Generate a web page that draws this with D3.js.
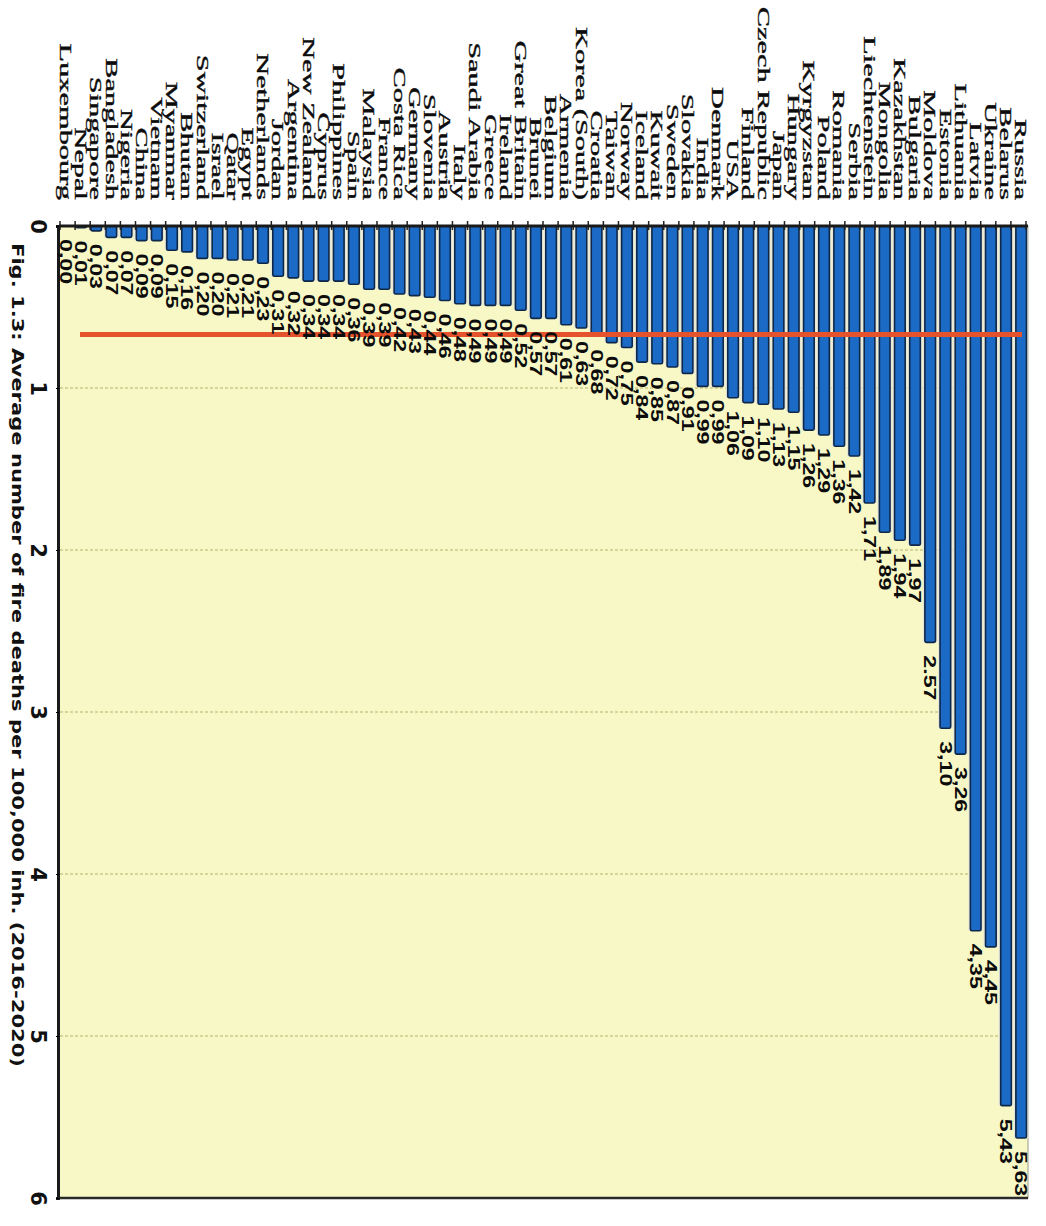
<!DOCTYPE html>
<html>
<head>
    <title>Fire deaths</title>
    <script src="https://cdn.jsdelivr.net/npm/d3@7"></script>
    <style>
        body {
            margin: 0;
            padding: 0;
            background-color: white;
        }

        .country-label {
            font-family: "Liberation Serif", "Times New Roman", serif;
            font-size: 16px;
            fill: #0c0c0c;
            stroke: #0c0c0c;
            stroke-width: 0.35px;
        }

        .value-label {
            font-family: "Liberation Sans", Arial, sans-serif;
            font-size: 16px;
            font-weight: bold;
            fill: #0c0c0c;
        }

        .tick-label {
            font-family: "DejaVu Sans", sans-serif;
            font-size: 21px;
            font-weight: bold;
            fill: #111;
        }

        .caption {
            font-family: "DejaVu Sans", sans-serif;
            font-size: 16px;
            font-weight: bold;
            fill: #111;
        }
    </style>
</head>
<body>
    <div id="chart"></div>

    <script>
        // countries in drawing order (left to right on the page)
        const countries = [
            "Luxembourg", "Nepal", "Singapore", "Bangladesh", "Nigeria", "China", "Vietnam", "Myanmar",
            "Bhutan", "Switzerland", "Israel", "Qatar", "Egypt", "Netherlands", "Jordan", "Argentina",
            "New Zealand", "Cyprus", "Philippines", "Spain", "Malaysia", "France", "Costa Rica", "Germany",
            "Slovenia", "Austria", "Italy", "Saudi Arabia", "Greece", "Ireland", "Great Britain", "Brunei",
            "Belgium", "Armenia", "Korea (South)", "Croatia", "Taiwan", "Norway", "Iceland", "Kuwait",
            "Sweden", "Slovakia", "India", "Denmark", "USA", "Finland", "Czech Republic", "Japan",
            "Hungary", "Kyrgyzstan", "Poland", "Romania", "Serbia", "Liechtenstein", "Mongolia", "Kazakhstan",
            "Bulgaria", "Moldova", "Estonia", "Lithuania", "Latvia", "Ukraine", "Belarus", "Russia"
        ];

        const deaths = [
            0.00, 0.01, 0.03, 0.07, 0.07, 0.09, 0.09, 0.15,
            0.16, 0.20, 0.20, 0.21, 0.21, 0.23, 0.31, 0.32,
            0.34, 0.34, 0.34, 0.36, 0.39, 0.39, 0.42, 0.43,
            0.44, 0.46, 0.48, 0.49, 0.49, 0.49, 0.52, 0.57,
            0.57, 0.61, 0.63, 0.68, 0.72, 0.75, 0.84, 0.85,
            0.87, 0.91, 0.99, 0.99, 1.06, 1.09, 1.10, 1.13,
            1.15, 1.26, 1.29, 1.36, 1.42, 1.71, 1.89, 1.94,
            1.97, 2.57, 3.10, 3.26, 4.35, 4.45, 5.43, 5.63
        ];

        const valueTicks = [0, 1, 2, 3, 4, 5, 6];
        const gridValues = [1, 2, 3, 4, 5];
        const averageLine = 0.67;
        const dotLabels = ["Moldova"];
        const caption = "Fig. 1.3:  Average number of fire deaths per 100,000 inh.  (2016-2020)";

        const pageW = 1046, pageH = 1226;

        // the chart is drawn as a horizontal bar chart and then turned 90deg clockwise
        const svg = d3.select("#chart")
            .append("svg")
            .attr("width", pageW)
            .attr("height", pageH);

        const g = svg.append("g")
            .attr("transform", `translate(${pageW},0) rotate(90)`);

        const plot = { left: 226, right: 1198, top: 18, bottom: 987 };

        const xScale = d3.scaleLinear()
            .domain([0, 6])
            .range([plot.left, plot.right]);

        const yScale = d3.scaleBand()
            .domain(countries)
            .range([plot.bottom, plot.top])
            .paddingInner(0.3)
            .paddingOuter(0.1);

        const data = countries.map((c, i) => ({ country: c, value: deaths[i] }));

        g.append("rect")
            .attr("x", plot.left)
            .attr("y", plot.top)
            .attr("width", plot.right - plot.left)
            .attr("height", plot.bottom - plot.top)
            .attr("fill", "#f7f8c6")
            .attr("stroke", "#9a9a8a")
            .attr("stroke-width", 1);

        // grid lines
        g.selectAll(".grid")
            .data(gridValues)
            .enter()
            .append("line")
            .attr("class", "grid")
            .attr("x1", d => xScale(d))
            .attr("x2", d => xScale(d))
            .attr("y1", plot.top)
            .attr("y2", plot.bottom)
            .attr("stroke", "#aaa35a")
            .attr("stroke-width", 1)
            .attr("stroke-dasharray", "3,2")
            .attr("opacity", 0.8);

        // light strip behind each bar
        g.selectAll(".bar-bg")
            .data(data)
            .enter()
            .append("rect")
            .attr("class", "bar-bg")
            .attr("x", xScale(0))
            .attr("y", d => yScale(d.country) - 2)
            .attr("width", d => xScale(d.value) - xScale(0))
            .attr("height", yScale.bandwidth() + 4)
            .attr("fill", "#e4e6dc");

        g.selectAll(".bar")
            .data(data)
            .enter()
            .append("rect")
            .attr("class", "bar")
            .attr("x", xScale(0))
            .attr("y", d => yScale(d.country))
            .attr("width", d => xScale(d.value) - xScale(0))
            .attr("height", yScale.bandwidth())
            .attr("rx", 1.5)
            .attr("fill", "#1b6bc6")
            .attr("stroke", "#0f2748")
            .attr("stroke-width", 1.6);

        // average line
        g.append("line")
            .attr("x1", xScale(averageLine))
            .attr("x2", xScale(averageLine))
            .attr("y1", 24)
            .attr("y2", 966)
            .attr("stroke", "#e5532c")
            .attr("stroke-width", 5);

        // category axis with ticks on the band edges
        const edgeScale = d3.scaleLinear()
            .domain([0, countries.length])
            .range([plot.bottom - yScale.step() * 0.1, plot.top + yScale.step() * 0.1]);

        g.append("g")
            .attr("transform", `translate(${plot.left + 4},0)`)
            .call(d3.axisLeft(edgeScale)
                .tickValues(d3.range(countries.length + 1))
                .tickSize(9)
                .tickFormat(""))
            .call(a => a.select(".domain").remove())
            .selectAll("line")
            .attr("stroke", "#222")
            .attr("stroke-width", 1.5);

        g.append("line")
            .attr("x1", plot.left)
            .attr("x2", plot.left)
            .attr("y1", plot.top)
            .attr("y2", plot.bottom)
            .attr("stroke", "#1a1a1a")
            .attr("stroke-width", 3);

        // far edge of the plot
        g.append("line")
            .attr("x1", plot.right)
            .attr("x2", plot.right)
            .attr("y1", plot.top)
            .attr("y2", plot.bottom)
            .attr("stroke", "#2a2a2a")
            .attr("stroke-width", 2.5);

        // value axis
        const valueAxis = g.append("g")
            .attr("transform", `translate(0,${plot.bottom})`)
            .call(d3.axisBottom(xScale)
                .tickValues(valueTicks)
                .tickSize(3)
                .tickPadding(10)
                .tickFormat(d3.format("d")));
        valueAxis.select(".domain")
            .attr("stroke", "#1a1a1a")
            .attr("stroke-width", 3);
        valueAxis.selectAll("text")
            .attr("class", "tick-label");

        // country names
        g.selectAll(".country-label")
            .data(data)
            .enter()
            .append("text")
            .attr("class", "country-label")
            .attr("transform", d => `translate(200,${yScale(d.country) + yScale.bandwidth() / 2}) scale(1.9,1)`)
            .attr("dy", "0.36em")
            .style("text-anchor", "end")
            .text(d => d.country);

        // value labels
        const fmt = d3.format(".2f");
        g.selectAll(".value-label")
            .data(data)
            .enter()
            .append("text")
            .attr("class", "value-label")
            .attr("transform", d => `translate(${xScale(d.value) + 13},${yScale(d.country) + yScale.bandwidth() / 2}) scale(1.45,1)`)
            .attr("dy", "0.36em")
            .text(d => dotLabels.includes(d.country) ? fmt(d.value) : fmt(d.value).replace(".", ","));

        // caption
        g.append("text")
            .attr("class", "caption")
            .attr("x", 243)
            .attr("y", 1034)
            .attr("textLength", 824)
            .attr("lengthAdjust", "spacingAndGlyphs")
            .text(caption);
    </script>
</body>
</html>
